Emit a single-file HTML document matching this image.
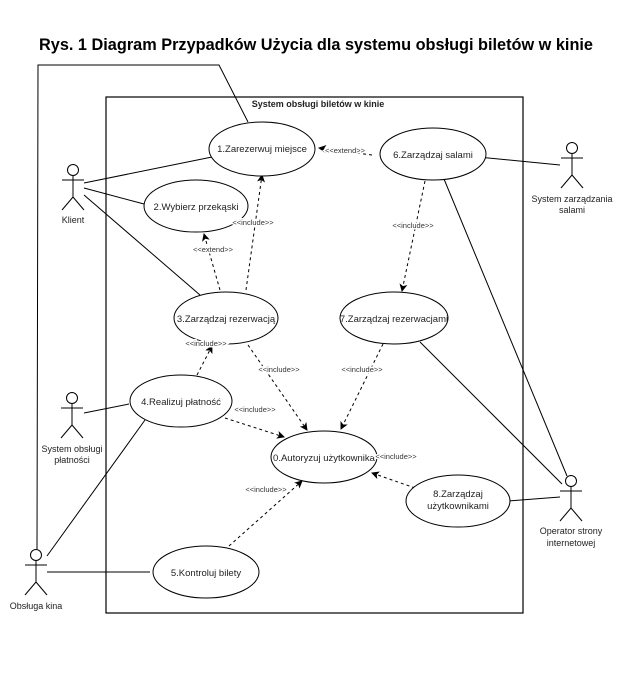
<!DOCTYPE html>
<html><head><meta charset="utf-8"><style>
html,body{margin:0;padding:0;background:#fff;}
svg{display:block;}
text{font-family:"Liberation Sans",sans-serif;fill:#222;}
.st{fill:#333;stroke:#fff;stroke-width:3px;paint-order:stroke;}
</style></head><body>
<svg width="632" height="673" viewBox="0 0 632 673" xmlns="http://www.w3.org/2000/svg">
<defs>
<marker id="a" markerWidth="8" markerHeight="8" refX="7" refY="4" orient="auto" markerUnits="userSpaceOnUse">
<path d="M0,0 L8,4 L0,8 L2,4 z" fill="#000"/>
</marker>
</defs>
<text x="316" y="50" text-anchor="middle" font-size="17" font-weight="bold" textLength="554" lengthAdjust="spacingAndGlyphs" style="fill:#000">Rys. 1 Diagram Przypadków Użycia dla systemu obsługi biletów w kinie</text>

<rect x="106" y="97" width="417" height="516" fill="none" stroke="#000" stroke-width="1.2"/>
<text x="318" y="107" text-anchor="middle" font-size="9" font-weight="bold">System obsługi biletów w kinie</text>

<g stroke="#000" stroke-width="1" fill="none">
<polyline points="37,549 38,65 219,65 248,122"/>
<line x1="84" y1="183" x2="212" y2="157"/>
<line x1="84" y1="188" x2="144" y2="204"/>
<line x1="84" y1="195" x2="200" y2="295"/>
<line x1="478" y1="157" x2="560" y2="165"/>
<line x1="444" y1="179" x2="567" y2="476"/>
<line x1="420" y1="342" x2="562" y2="484"/>
<line x1="84" y1="413" x2="129" y2="404"/>
<line x1="47" y1="556" x2="145" y2="420"/>
<line x1="47" y1="572" x2="150" y2="572"/>
<line x1="508" y1="501" x2="560" y2="497"/>
</g>

<g stroke="#000" stroke-width="1" fill="none" stroke-dasharray="3,3" marker-end="url(#a)">
<line x1="372" y1="155" x2="319" y2="148"/>
<line x1="220" y1="290" x2="204" y2="234"/>
<line x1="246" y1="290" x2="262" y2="175"/>
<line x1="425" y1="181" x2="402" y2="291"/>
<line x1="197" y1="375" x2="212" y2="346"/>
<line x1="248" y1="345" x2="307" y2="430"/>
<line x1="383" y1="344" x2="341" y2="429"/>
<line x1="225" y1="418" x2="284" y2="437"/>
<line x1="229" y1="546" x2="302" y2="481"/>
<line x1="415" y1="488" x2="372" y2="473"/>
</g>

<g fill="#fff" stroke="#000" stroke-width="1">
<ellipse cx="262" cy="149" rx="53" ry="27"/>
<ellipse cx="196" cy="206" rx="52" ry="26"/>
<ellipse cx="226" cy="318" rx="52" ry="26"/>
<ellipse cx="433" cy="154" rx="53" ry="26"/>
<ellipse cx="394" cy="318" rx="54" ry="26"/>
<ellipse cx="181" cy="401" rx="51" ry="26"/>
<ellipse cx="324" cy="457" rx="53" ry="26"/>
<ellipse cx="458" cy="501" rx="52" ry="26"/>
<ellipse cx="206" cy="572" rx="53" ry="26"/>
</g>

<g font-size="9.5" text-anchor="middle">
<text x="262" y="152">1.Zarezerwuj miejsce</text>
<text x="196" y="210">2.Wybierz przekąski</text>
<text x="226" y="322">3.Zarządzaj rezerwacją</text>
<text x="433" y="158">6.Zarządzaj salami</text>
<text x="394" y="322">7.Zarządzaj rezerwacjami</text>
<text x="181" y="405">4.Realizuj płatność</text>
<text x="324" y="461">0.Autoryzuj użytkownika</text>
<text x="458" y="497">8.Zarządzaj</text>
<text x="458" y="509">użytkownikami</text>
<text x="206" y="576">5.Kontroluj bilety</text>
</g>

<g font-size="7.5" text-anchor="middle">
<text class="st" x="345" y="153">&lt;&lt;extend&gt;&gt;</text>
<text class="st" x="213" y="252">&lt;&lt;extend&gt;&gt;</text>
<text class="st" x="253" y="225">&lt;&lt;include&gt;&gt;</text>
<text class="st" x="413" y="228">&lt;&lt;include&gt;&gt;</text>
<text class="st" x="206" y="346">&lt;&lt;include&gt;&gt;</text>
<text class="st" x="279" y="372">&lt;&lt;include&gt;&gt;</text>
<text class="st" x="362" y="372">&lt;&lt;include&gt;&gt;</text>
<text class="st" x="255" y="412">&lt;&lt;include&gt;&gt;</text>
<text class="st" x="266" y="492">&lt;&lt;include&gt;&gt;</text>
<text class="st" x="396" y="459">&lt;&lt;include&gt;&gt;</text>
</g>

<g stroke="#000" stroke-width="1" fill="#fff">
<g transform="translate(73,170)"><circle cx="0" cy="0" r="5.5"/><line x1="0" y1="5.5" x2="0" y2="27"/><line x1="-11" y1="10" x2="11" y2="10"/><line x1="0" y1="27" x2="-11" y2="40"/><line x1="0" y1="27" x2="11" y2="40"/></g>
<g transform="translate(572,148)"><circle cx="0" cy="0" r="5.5"/><line x1="0" y1="5.5" x2="0" y2="27"/><line x1="-11" y1="10" x2="11" y2="10"/><line x1="0" y1="27" x2="-11" y2="40"/><line x1="0" y1="27" x2="11" y2="40"/></g>
<g transform="translate(72,398)"><circle cx="0" cy="0" r="5.5"/><line x1="0" y1="5.5" x2="0" y2="27"/><line x1="-11" y1="10" x2="11" y2="10"/><line x1="0" y1="27" x2="-11" y2="40"/><line x1="0" y1="27" x2="11" y2="40"/></g>
<g transform="translate(36,555)"><circle cx="0" cy="0" r="5.5"/><line x1="0" y1="5.5" x2="0" y2="27"/><line x1="-11" y1="10" x2="11" y2="10"/><line x1="0" y1="27" x2="-11" y2="40"/><line x1="0" y1="27" x2="11" y2="40"/></g>
<g transform="translate(571,481)"><circle cx="0" cy="0" r="5.5"/><line x1="0" y1="5.5" x2="0" y2="27"/><line x1="-11" y1="10" x2="11" y2="10"/><line x1="0" y1="27" x2="-11" y2="40"/><line x1="0" y1="27" x2="11" y2="40"/></g>
</g>
<g font-size="9" text-anchor="middle">
<text x="73" y="223">Klient</text>
<text x="572" y="202">System zarządzania</text>
<text x="572" y="213">salami</text>
<text x="72" y="452">System obsługi</text>
<text x="72" y="463">płatności</text>
<text x="36" y="609">Obsługa kina</text>
<text x="571" y="534">Operator strony</text>
<text x="571" y="546">internetowej</text>
</g>
</svg>
</body></html>
